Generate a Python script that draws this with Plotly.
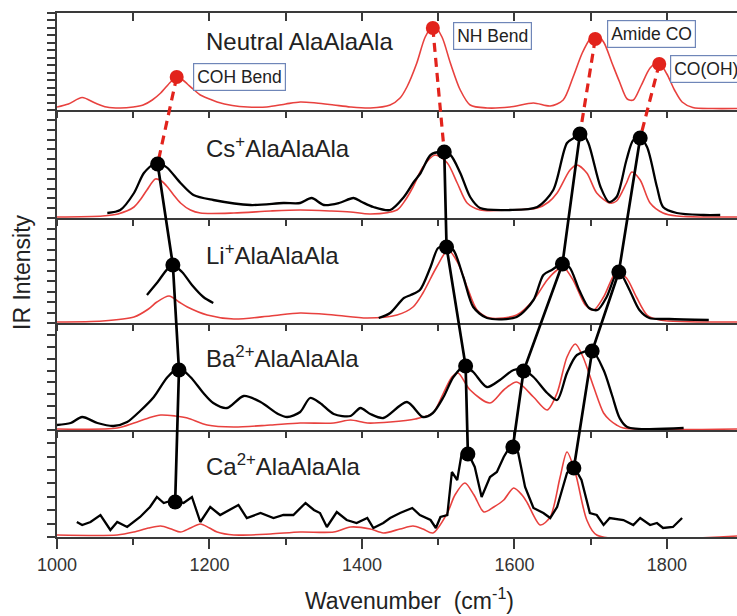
import plotly.graph_objects as go

# ---------------- data (wavenumber, intensity a.u.) ----------------
neutral_x = [1000,1015,1033,1050,1065,1083,1100,1113,1125,1136,1149,1157,1165,1171,1180,1188,1200,1210,1230,1250,1275,1300,1319,1340,1363,1385,1411,1437,1450,1459,1472,1483,1494,1505,1516,1529,1542,1564,1594,1625,1647,1664,1677,1689,1700,1706,1717,1728,1738,1748,1756,1766,1778,1789,1800,1810,1820,1834,1860,1892]
neutral_y = [3,6,12.5,7,3,2,3,5,10,17,28,33,30,26,20,15,11,8,4.5,3,3,6,8,7,5,3,2,5,12,23,47,73,85,73,47,20,5,2,3,7,4,10,33,57,72,76,68,47,28,11,10,24,42,48,36,20,8,2.5,1.5,1.5]

cs_calc_x = [1000,1060,1080,1101,1110,1118,1129,1137,1145,1153,1162,1175,1188,1232,1280,1319,1360,1385,1411,1446,1457,1467,1480,1496,1512,1525,1538,1555,1594,1630,1645,1656,1673,1682,1695,1708,1725,1734,1747,1754,1765,1778,1795,1813,1892]
cs_calc_y = [1,2,4,11,19,28,39,37,31,23,15,8,5,5,7,8,7,6,4,8,18,31,51,63,55,35,15,8,8,10,16,25,48,53,45,25,15,17,35,46,38,15,5,2,1]
cs_exp_x = [1066,1083,1101,1114,1129,1137,1145,1162,1179,1205,1254,1297,1319,1334,1350,1370,1389,1400,1415,1437,1455,1468,1477,1490,1503,1516,1529,1542,1555,1594,1630,1651,1669,1680,1689,1697,1713,1724,1734,1747,1756,1765,1774,1787,1795,1813,1848,1870]
cs_exp_y = [5,8,25,45,55,54,50,35,23,18,13,15,15,20,13,15,20,16,11,8,21,36,45,63,66,63,45,21,10,8,11,28,75,81,85,75,31,16,21,58,78,80,71,31,11,5,3,3]

li_calc_x = [1000,1060,1101,1120,1131,1147,1160,1171,1197,1232,1280,1319,1363,1407,1446,1467,1480,1498,1513,1526,1538,1551,1568,1603,1625,1643,1656,1664,1677,1693,1704,1717,1734,1747,1760,1774,1791,1892]
li_calc_y = [1,2,6,14,21,27,21,16,8,4,7,10,8,5,8,16,30,56,73,60,36,13,5,8,23,43,53,56,43,18,13,26,51,45,26,8,3,1]
li_exp_x = [1118,1131,1151,1164,1177,1192,1205,None,1422,1437,1455,1464,1476,1490,1500,1511,1520,1533,1546,1564,1603,1625,1638,1649,1662,1672,1685,1698,1709,1721,1734,1738,1751,1764,1777,1803,1855]
li_exp_y = [28,40,58,51,38,26,20,None,5,10,25,28,33,56,75,77,73,46,16,5,6,23,48,53,59,56,33,15,13,26,50,51,33,13,5,4,3]

ba_calc_x = [1000,1079,1101,1120,1136,1155,1171,1197,1232,1280,1319,1363,1385,1407,1437,1470,1493,1507,1518,1526,1542,1568,1586,1603,1625,1643,1656,1669,1680,1690,1704,1717,1725,1734,1743,1892]
ba_calc_y = [1,2,7,12,15,14,12,5,3,5,7,7,10,7,8,11,17,37,53,57,40,27,40,48,33,20,37,73,86,73,43,17,10,5,2,1]
ba_exp_x = [1000,1018,1033,1053,1074,1092,1109,1127,1145,1160,1175,1192,1205,1223,1245,1267,1290,1302,1319,1332,1345,1363,1385,1398,1411,1428,1459,1480,1493,1507,1520,1535,1546,1564,1581,1599,1612,1625,1643,1656,1669,1682,1702,1717,1728,1738,1748,1822]
ba_exp_y = [5,7,13,7,4,8,19,33,53,62,53,37,27,22,34,28,16,13,18,32,27,16,14,22,16,12,28,13,17,33,53,64,58,43,50,60,60,53,37,30,57,75,79,60,35,12,3,2]

ca_calc_x = [1000,1079,1101,1120,1136,1150,1162,1175,1188,1200,1210,1232,1280,1319,1363,1385,1411,1428,1450,1467,1480,1493,1512,1522,1535,1547,1560,1573,1586,1599,1610,1617,1634,1647,1660,1669,1680,1695,1708,1892]
ca_calc_y = [2,2,5,9,11,8,5,9,13,9,5,2,3,5,5,10,8,4,8,11,8,4,24,42,54,42,25,30,37,49,42,34,12,20,60,85,64,17,2,1]
ca_exp_x = [1026,1033,1044,1057,1070,1079,1092,1109,1122,1131,1140,1153,1166,1177,1188,1201,1214,1227,1238,1249,1267,1284,1297,1310,1326,1337,1345,1354,1367,1380,1393,1407,1415,1428,1437,1450,1466,1476,1490,1497,1503,1512,1518,1525,1531,1539,1548,1557,1568,1577,1586,1597,1605,1614,1625,1638,1647,1656,1669,1677,1688,1699,1708,1717,1725,1743,1756,1765,1778,1787,1795,1808,1820]
ca_exp_y = [15,12,15,22,7,15,10,20,30,40,34,37,34,40,15,30,22,27,32,19,24,19,22,22,34,27,24,10,25,17,14,19,9,14,19,24,29,22,17,9,20,22,65,57,84,84,70,40,60,65,80,94,84,50,29,24,19,30,64,72,57,24,22,12,19,17,12,19,12,14,9,10,19]

# band peak positions (wavenumber) and intensities per panel: COH, NH, Amide CO, CO(OH)
neutral_peak_x = [1157,1493,1706,1790]
neutral_peak_y = [33,82,71,46]
cs_peak_x = [1132,1508,1686,1765]
cs_peak_y = [54,66,84,80]
li_peak_x = [1152,1511,1663,1737]
li_peak_y = [58,76,59,51]
ba_peak_x = [1160,1536,1612,1702]
ba_peak_y = [60,64,59,79]
ca_peak_x = [1155,1539,1598,1678]
ca_peak_y = [35,83,90,69]

band_labels = ["COH Bend","NH Bend","Amide CO","CO(OH)"]
panel_labels = ["Neutral AlaAlaAla","Cs<sup>+</sup>AlaAlaAla","Li<sup>+</sup>AlaAlaAla",
                "Ba<sup>2+</sup>AlaAlaAla","Ca<sup>2+</sup>AlaAlaAla"]
x_ticks = [1000,1200,1400,1600,1800]

# ---------------- layout geometry ----------------
W, H = 737, 616
L, R, T, B = 57, 0, 13, 79
bounds = [13, 110, 218, 323, 430, 537]   # panel edges (px from top)
PH = H - T - B
XR = [1000, 1892]

RED = "#e8413e"
DOT_RED = "#e2231c"
AX = "#3a3a3a"
FONT = "Liberation Sans, Arial, sans-serif"

def dom(i):
    top, bot = bounds[i], bounds[i+1]
    return [(H - B - bot) / PH, (H - B - top) / PH]

def off(i):
    return (H - B) - bounds[i+1]

fig = go.Figure()

calc = [(neutral_x, neutral_y), (cs_calc_x, cs_calc_y), (li_calc_x, li_calc_y),
        (ba_calc_x, ba_calc_y), (ca_calc_x, ca_calc_y)]
exp = [None, (cs_exp_x, cs_exp_y), (li_exp_x, li_exp_y), (ba_exp_x, ba_exp_y), (ca_exp_x, ca_exp_y)]

for i in range(5):
    xa = "x" if i == 0 else f"x{i+1}"
    ya = "y" if i == 0 else f"y{i+1}"
    cx, cy = calc[i]
    fig.add_trace(go.Scatter(x=cx, y=cy, mode="lines", line=dict(color=RED, width=1.6, shape="spline", smoothing=0.8),
                             xaxis=xa, yaxis=ya, showlegend=False, hoverinfo="skip"))
    if exp[i] is not None:
        ex, ey = exp[i]
        shape = "linear" if i == 4 else "spline"
        fig.add_trace(go.Scatter(x=ex, y=ey, mode="lines", connectgaps=False,
                                 line=dict(color="black", width=2.3, shape=shape, smoothing=0.8),
                                 xaxis=xa, yaxis=ya, showlegend=False, hoverinfo="skip"))

# overlay subplot for connectors & peak markers
peaks = [(neutral_peak_x, neutral_peak_y), (cs_peak_x, cs_peak_y), (li_peak_x, li_peak_y),
         (ba_peak_x, ba_peak_y), (ca_peak_x, ca_peak_y)]
for b in range(4):
    fig.add_trace(go.Scatter(x=[peaks[0][0][b], peaks[1][0][b]],
                             y=[off(0) + peaks[0][1][b], off(1) + peaks[1][1][b]],
                             mode="lines", line=dict(color=DOT_RED, width=3.2, dash="9px,6px"),
                             xaxis="x6", yaxis="y6", showlegend=False, hoverinfo="skip"))
    fig.add_trace(go.Scatter(x=[peaks[k][0][b] for k in range(1, 5)],
                             y=[off(k) + peaks[k][1][b] for k in range(1, 5)],
                             mode="lines", line=dict(color="black", width=2.7),
                             xaxis="x6", yaxis="y6", showlegend=False, hoverinfo="skip"))
fig.add_trace(go.Scatter(x=neutral_peak_x, y=[off(0) + v for v in neutral_peak_y], mode="markers",
                         marker=dict(color=DOT_RED, size=14), xaxis="x6", yaxis="y6",
                         showlegend=False, hoverinfo="skip", cliponaxis=False))
bx, by = [], []
for k in range(1, 5):
    bx += peaks[k][0]
    by += [off(k) + v for v in peaks[k][1]]
fig.add_trace(go.Scatter(x=bx, y=by, mode="markers", marker=dict(color="black", size=15),
                         xaxis="x6", yaxis="y6", showlegend=False, hoverinfo="skip", cliponaxis=False))
fig.add_trace(go.Scatter(x=[None], y=[None], xaxis="x7", yaxis="y", showlegend=False))

ytick_step = [7.46, 9.8, 10.5, 11.9, 13.4]
layout = dict(width=W, height=H, autosize=False, margin=dict(l=L, r=R, t=T, b=B),
              paper_bgcolor="white", plot_bgcolor="rgba(0,0,0,0)",
              font=dict(family=FONT, color="#222"), showlegend=False)
for i in range(5):
    xk = "xaxis" if i == 0 else f"xaxis{i+1}"
    yk = "yaxis" if i == 0 else f"yaxis{i+1}"
    ya = "y" if i == 0 else f"y{i+1}"
    xa = "x" if i == 0 else f"x{i+1}"
    xd = dict(range=XR, domain=[0, 1], anchor=ya, showline=True, linecolor=AX, linewidth=1.8,
              ticks="outside", tickcolor=AX, tickwidth=1.5, ticklen=6, tick0=1000, dtick=100,
              showticklabels=False, showgrid=False, zeroline=False, fixedrange=True)
    if i == 4:
        xd.update(dtick=200, ticklen=10, showticklabels=True, tickvals=x_ticks,
                  tickfont=dict(size=18, color="#333"),
                  minor=dict(dtick=100, tick0=1000, ticks="outside", ticklen=6, tickcolor=AX, tickwidth=1.5))
    layout[xk] = xd
    h = bounds[i+1] - bounds[i]
    layout[yk] = dict(range=[0, h], domain=dom(i), anchor=xa, showline=True, linecolor=AX, linewidth=1.8,
                      ticks="outside", tickcolor=AX, tickwidth=1.5, ticklen=8, tick0=0, dtick=ytick_step[i],
                      showticklabels=False, showgrid=False, zeroline=False, fixedrange=True)
layout["xaxis6"] = dict(range=XR, domain=[0, 1], anchor="y6", visible=False, fixedrange=True)
layout["yaxis6"] = dict(range=[0, PH], domain=[0, 1], anchor="x6", visible=False, fixedrange=True)
layout["xaxis7"] = dict(range=XR, overlaying="x", anchor="y", side="top", showline=True, linecolor=AX,
                        linewidth=1.8, ticks="inside", ticklen=8, tickcolor=AX, tickwidth=1.5,
                        tick0=1000, dtick=100, showticklabels=False, showgrid=False, zeroline=False)

ann = []
label_y = [42, 147, 254, 357, 465]
for i, t in enumerate(panel_labels):
    ann.append(dict(text=t, xref="paper", yref="paper", x=(204 - L) / (W - L - R),
                    y=(H - B - label_y[i]) / PH, xanchor="left", yanchor="middle", showarrow=False,
                    font=dict(size=24, color="#222", family=FONT)))
box_left = [193, 453, 607, 670]
box_y = [77, 36, 34.5, 68.5]
for j, t in enumerate(band_labels):
    ann.append(dict(text=t, xref="paper", yref="paper", x=(box_left[j] - L) / (W - L - R),
                    y=(H - B - box_y[j]) / PH, xanchor="left", yanchor="middle", showarrow=False,
                    bordercolor="#6f86b8", borderwidth=1.2, borderpad=3, bgcolor="white",
                    font=dict(size=17.5, color="#222", family=FONT)))
ann.append(dict(text="Wavenumber\u00a0\u00a0(cm<sup>-1</sup>)", xref="paper", yref="paper",
                x=(409 - L) / (W - L - R), y=(H - B - 599) / PH, xanchor="center", yanchor="middle",
                showarrow=False, font=dict(size=23, color="#222", family=FONT)))
ann.append(dict(text="IR Intensity", xref="paper", yref="paper", x=(22 - L) / (W - L - R),
                y=(H - B - 272) / PH, xanchor="center", yanchor="middle", textangle=-90,
                showarrow=False, font=dict(size=23, color="#222", family=FONT)))
layout["annotations"] = ann
fig.update_layout(**layout)
fig.write_html("out.html")
